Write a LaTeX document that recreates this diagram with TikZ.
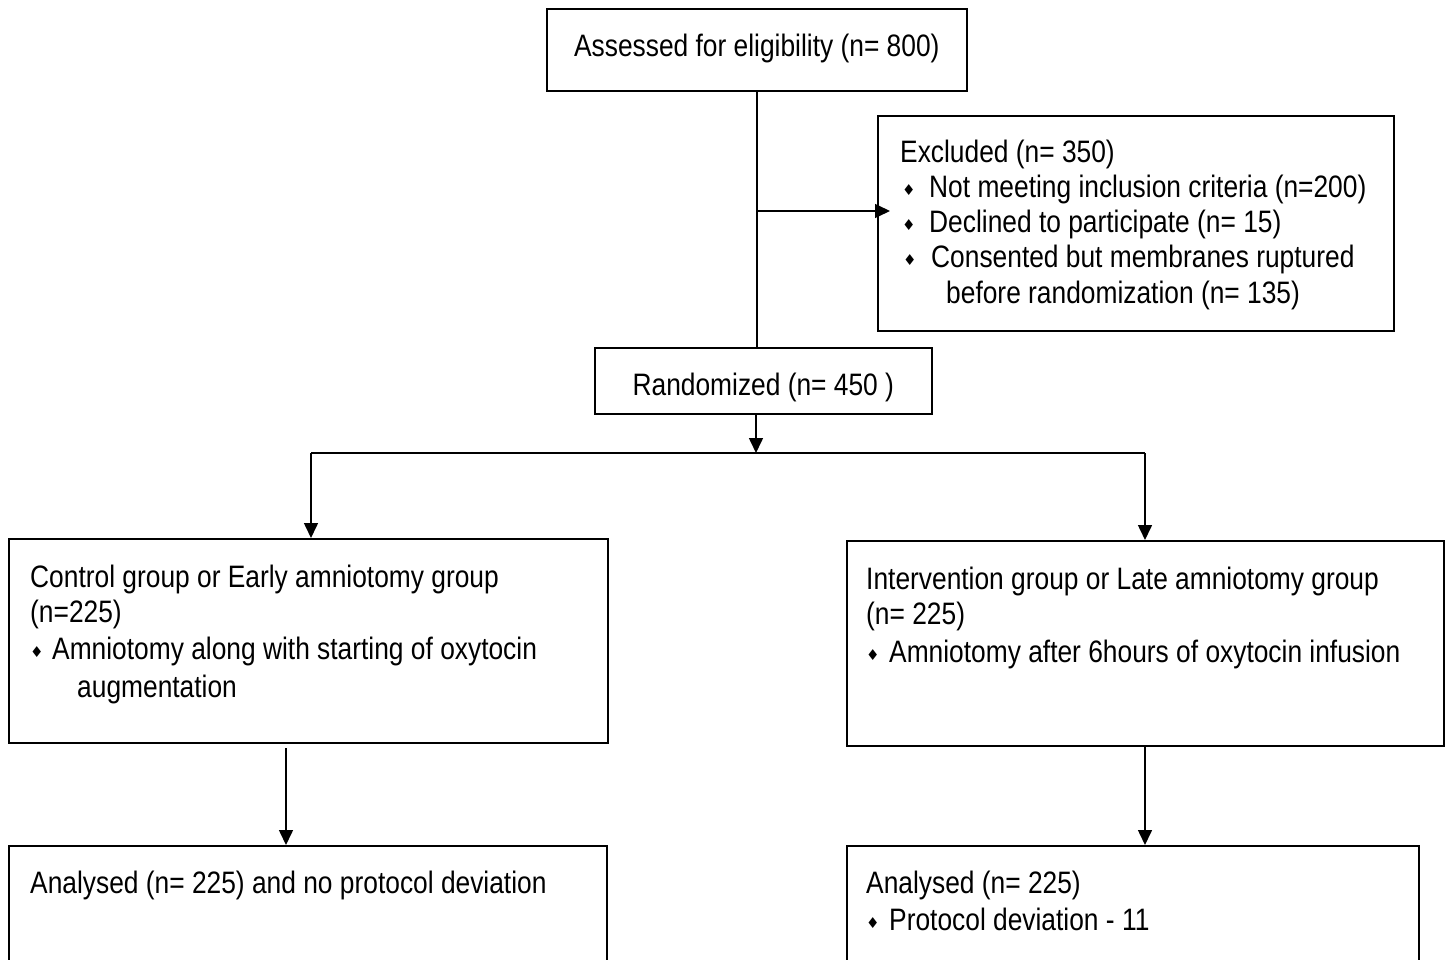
\documentclass[tikz,border=0pt]{standalone}
\usepackage{fontspec}
\setmainfont{Liberation Sans}[FakeStretch=0.85]
\newfontfamily\symf{DejaVu Sans}
\usetikzlibrary{arrows.meta}
\newcommand\bul{{\symf\fontsize{15}{15}\selectfont ♦}}
\tikzset{
  box/.style={draw, line width=1.6pt, rectangle, inner sep=0pt, anchor=north west},
  txt/.style={anchor=base west, inner sep=0pt, font=\fontsize{31}{35}\selectfont},
  bl/.style={anchor=base west, inner sep=0pt},
  line/.style={line width=1.6pt},
  arr/.style={line width=1.6pt, -{Triangle[length=15pt,width=14pt]}}
}
\begin{document}
\begin{tikzpicture}[x=1pt,y=-1pt]
\useasboundingbox (0,0) rectangle (1452,960);
\clip (0,0) rectangle (1452,960);
% boxes
\node[box, minimum width=420pt, minimum height=82pt, font=\fontsize{31}{35}\selectfont] (assess) at (546,8) {\raisebox{-7pt}[0pt][0pt]{Assessed for eligibility (n= 800)}};
\node[box, minimum width=516pt, minimum height=215pt] (excl) at (877,115) {};
\node[box, minimum width=337pt, minimum height=66pt, font=\fontsize{31}{35}\selectfont] (rand) at (594,347) {\raisebox{-15pt}[0pt][0pt]{Randomized (n= 450 )}};
\node[box, minimum width=599pt, minimum height=204pt] (ctrl) at (8,538) {};
\node[box, minimum width=597pt, minimum height=205pt] (interv) at (846,540) {};
\node[box, minimum width=598pt, minimum height=140pt] (anl) at (8,845) {};
\node[box, minimum width=572pt, minimum height=140pt] (anr) at (846,845) {};
% excluded texts
\node[txt] (e1) at (900,163) {Excluded (n= 350)};
\node[bl] (eb1) at (902,196) {\bul};
\node[txt] (e2) at (929,198) {Not meeting inclusion criteria (n=200)};
\node[bl] (eb2) at (902,231) {\bul};
\node[txt] (e3) at (929,233) {Declined to participate (n= 15)};
\node[bl] (eb3) at (903,266) {\bul};
\node[txt] (e4) at (931,268) {Consented but membranes ruptured};
\node[txt] (e5) at (946,303) {before randomization (n= 135)};
% control texts
\node[txt] (c1) at (30,587) {Control group or Early amniotomy group};
\node[txt] (c2) at (30,622) {(n=225)};
\node[bl] (cb1) at (30,657) {\bul};
\node[txt] (c3) at (52,659) {Amniotomy along with starting of oxytocin};
\node[txt] (c4) at (77,697) {augmentation};
% intervention texts
\node[txt] (i1) at (866,589) {Intervention group or Late amniotomy group};
\node[txt] (i2) at (866,624) {(n= 225)};
\node[bl] (ib1) at (866,660) {\bul};
\node[txt] (i3) at (889,662) {Amniotomy after 6hours of oxytocin infusion};
% analysed texts
\node[txt] (a1) at (30,893) {Analysed (n= 225) and no protocol deviation};
\node[txt] (a2) at (866,893) {Analysed (n= 225)};
\node[bl] (ab1) at (866,928) {\bul};
\node[txt] (a3) at (889,930) {Protocol deviation - 11};
% connectors
\coordinate (j1) at (756,211);
\draw[line] (assess.south) -- (assess.south |- rand.north);
\draw[arr, shorten >=-13pt] (j1) -- (excl.west |- j1);
\coordinate (split) at (756,453);
\draw[arr] (split |- rand.south) -- (split);
\coordinate (sl) at (311,453);
\coordinate (sr) at (1145,453);
\draw[line] (sl) -- (sr);
\draw[arr] (sl) -- (sl |- ctrl.north);
\draw[arr] (sr) -- (sr |- interv.north);
\coordinate (la) at (286,748);
\draw[arr] (la) -- (la |- anl.north);
\coordinate (ra) at (1145,745);
\draw[arr] (ra) -- (ra |- anr.north);
\end{tikzpicture}
\end{document}
